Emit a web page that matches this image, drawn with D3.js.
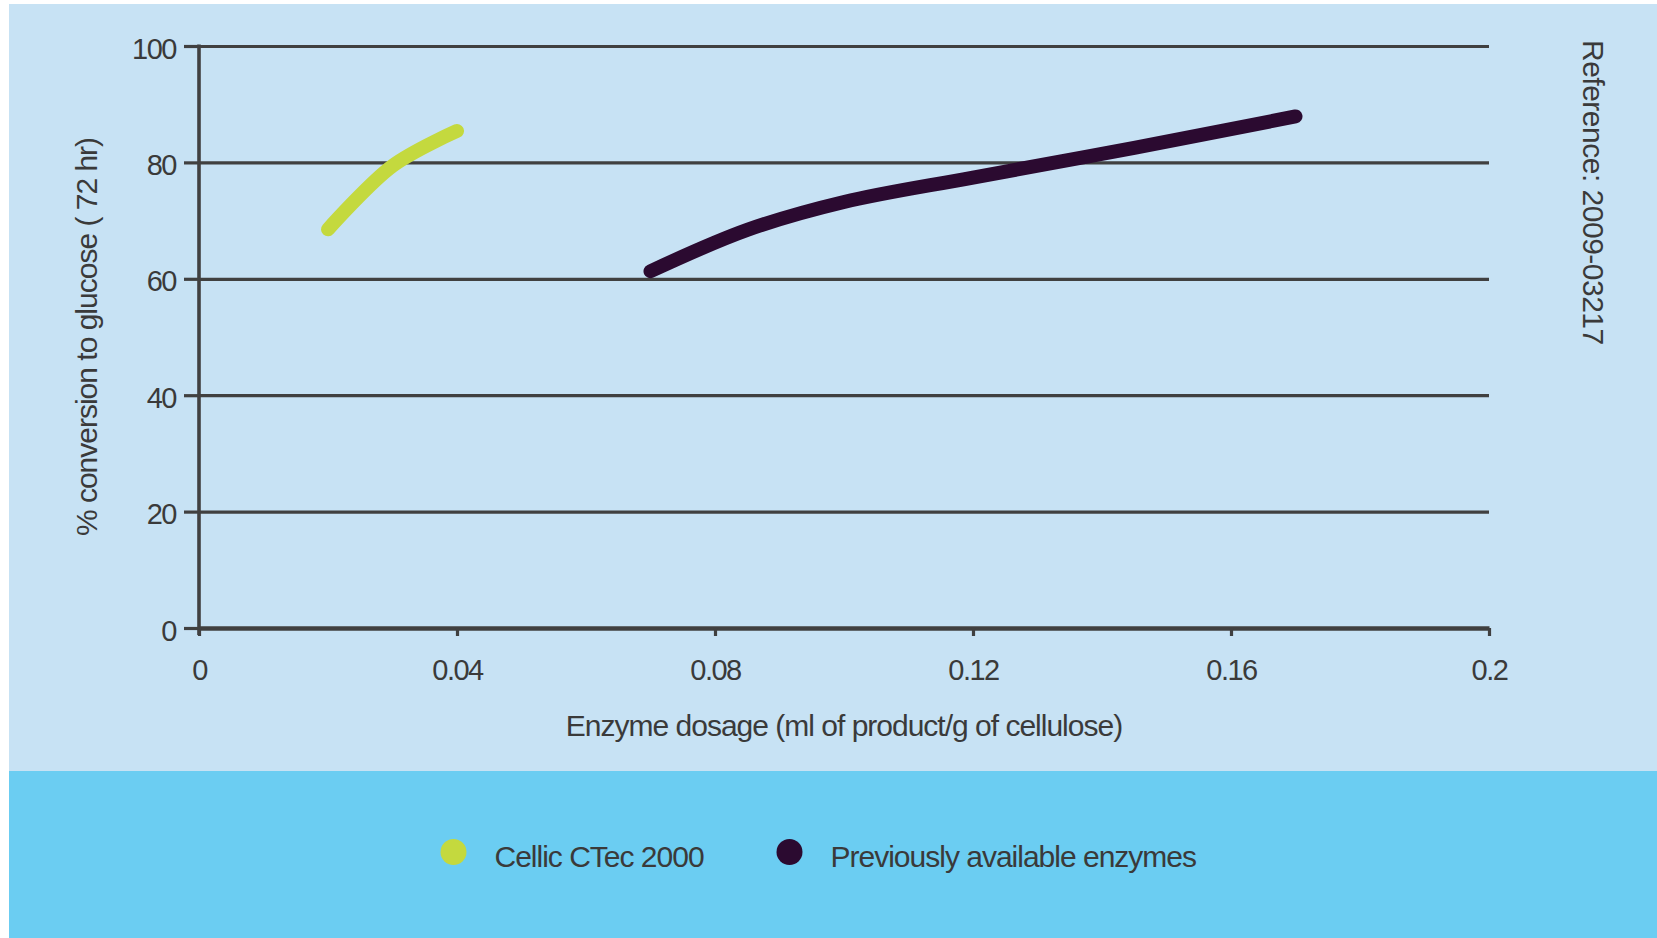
<!DOCTYPE html>
<html>
<head>
<meta charset="utf-8">
<script src="https://cdn.jsdelivr.net/npm/d3@7"></script>
<style>
  body { margin: 0; background: #fff; }
  svg { display: block; font-family: "Liberation Sans", Arial, sans-serif; }
</style>
</head>
<body>
<div id="chart"></div>
<script>
// data
const xTicks = [0, 0.04, 0.08, 0.12, 0.16, 0.2];
const xTickLabels = ["0", "0.04", "0.08", "0.12", "0.16", "0.2"];
const yTicks = [0, 20, 40, 60, 80, 100];

const cellicDose = [0.02, 0.03, 0.04];
const cellicConv = [68.5, 79.4, 85.4];

const prevDose = [0.07, 0.085, 0.10, 0.12, 0.145, 0.17];
const prevConv = [61.3, 68.4, 73.2, 77.4, 82.5, 87.9];

const seriesNames = ["Cellic CTec 2000", "Previously available enzymes"];

const W = 1657, H = 938;
const margin = { top: 46, left: 199 };
const width = 1290, height = 582;

const BG = "#c7e2f4";
const BAND = "#6bcdf2";
const GREEN = "#c4d93e";
const DARK = "#2b0a30";
const INK = "#404040";
const TXT = "#3a3a3a";

const svg = d3.select("#chart").append("svg")
  .attr("width", W).attr("height", H);

// panels
svg.append("rect").attr("x", 9).attr("y", 4).attr("width", W - 9).attr("height", 767).attr("fill", BG);
svg.append("rect").attr("x", 9).attr("y", 771).attr("width", W - 9).attr("height", H - 771).attr("fill", BAND);

const g = svg.append("g").attr("transform", `translate(${margin.left},${margin.top})`);

const x = d3.scaleLinear().domain([0, 0.2]).range([0, width]);
const y = d3.scaleLinear().domain([0, 100]).range([height, 0]);

// gridlines
g.append("g")
  .call(d3.axisLeft(y).tickValues(yTicks).tickSize(-width).tickFormat(""))
  .call(s => s.select(".domain").remove())
  .selectAll(".tick line").attr("stroke", INK).attr("stroke-width", 3.2);

// y axis with labels
const yAxis = g.append("g")
  .call(d3.axisLeft(y).tickValues(yTicks).tickSize(15).tickPadding(8).tickSizeOuter(0));
yAxis.select(".domain").remove();
yAxis.selectAll(".tick line").attr("stroke", INK).attr("stroke-width", 3.2);
yAxis.selectAll(".tick text")
  .attr("font-size", 29).attr("letter-spacing", "-1.5px").attr("fill", TXT)
  .attr("font-family", "Liberation Sans, Arial, sans-serif")
  .attr("dy", "0.42em");

// vertical axis line
g.append("line")
  .attr("x1", x(0)).attr("x2", x(0))
  .attr("y1", y(100) - 1.5).attr("y2", height + 7)
  .attr("stroke", INK).attr("stroke-width", 3.6);

// x axis
const xAxis = g.append("g")
  .attr("transform", `translate(0,${height})`)
  .call(d3.axisBottom(x).tickValues(xTicks).tickSize(8).tickSizeOuter(0).tickPadding(23)
    .tickFormat((d, i) => xTickLabels[i]));
xAxis.select(".domain").attr("stroke", INK).attr("stroke-width", 4.4);
xAxis.selectAll(".tick line").attr("stroke", INK).attr("stroke-width", 3.2);
xAxis.selectAll(".tick text")
  .attr("font-size", 29).attr("letter-spacing", "-1.5px").attr("fill", TXT)
  .attr("font-family", "Liberation Sans, Arial, sans-serif");

// series lines
const line = d3.line()
  .x(d => x(d[0]))
  .y(d => y(d[1]))
  .curve(d3.curveCatmullRom.alpha(0.5));

g.append("path")
  .datum(d3.zip(cellicDose, cellicConv))
  .attr("fill", "none")
  .attr("stroke", GREEN)
  .attr("stroke-width", 14)
  .attr("stroke-linecap", "round")
  .attr("stroke-linejoin", "round")
  .attr("d", line);

g.append("path")
  .datum(d3.zip(prevDose, prevConv))
  .attr("fill", "none")
  .attr("stroke", DARK)
  .attr("stroke-width", 14)
  .attr("stroke-linecap", "round")
  .attr("stroke-linejoin", "round")
  .attr("d", line);

// axis titles
svg.append("text")
  .attr("x", margin.left + width / 2).attr("y", 736)
  .attr("text-anchor", "middle")
  .attr("font-size", 30).attr("letter-spacing", "-1px").attr("fill", TXT)
  .text("Enzyme dosage (ml of product/g of cellulose)");

svg.append("text")
  .attr("transform", `translate(97,${margin.top + height / 2}) rotate(-90)`)
  .attr("text-anchor", "middle")
  .attr("font-size", 30).attr("letter-spacing", "-1px").attr("fill", TXT)
  .text("% conversion to glucose ( 72 hr)");

svg.append("text")
  .attr("transform", "translate(1583,40) rotate(90)")
  .attr("font-size", 30).attr("letter-spacing", "-0.5px").attr("fill", TXT)
  .text("Reference:  2009-03217");

// legend
const legendX = [453.5, 789.5];
const legendColors = [GREEN, DARK];
const leg = svg.append("g").selectAll("g")
  .data(seriesNames)
  .join("g")
  .attr("transform", (d, i) => `translate(${legendX[i]},852)`);
leg.append("circle").attr("r", 13).attr("fill", (d, i) => legendColors[i]);
leg.append("text")
  .attr("x", 41).attr("y", 15)
  .attr("font-size", 30).attr("letter-spacing", "-1px").attr("fill", TXT)
  .text(d => d);
</script>
</body>
</html>
